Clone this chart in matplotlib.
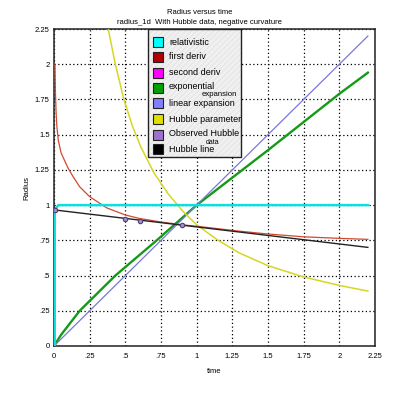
import matplotlib
matplotlib.use("Agg")
import matplotlib.pyplot as plt
from matplotlib.patches import Rectangle

plt.rcParams['font.family'] = ['Liberation Sans', 'DejaVu Sans']
plt.rcParams['hatch.linewidth'] = 0.5

# ---- data ----
tick_vals = [0, 0.25, 0.5, 0.75, 1, 1.25, 1.5, 1.75, 2, 2.25]
tick_labels = ["0", ".25", ".5", ".75", "1", "1.25", "1.5", "1.75", "2", "2.25"]

t_rel = [0.005, 0.005, 0.03, 2.2]
r_rel = [0.0, 0.965, 1.0, 1.0]

t_first = [0.007, 0.01, 0.015, 0.02, 0.03, 0.05, 0.077, 0.1, 0.135, 0.18, 0.25,
           0.37, 0.5, 0.6, 0.75, 0.9, 1.0, 1.3, 1.5, 1.75, 2.0, 2.2]
r_first = [2.0, 1.8, 1.65, 1.56, 1.46, 1.37, 1.31, 1.26, 1.2, 1.13, 1.06,
           0.98, 0.93, 0.905, 0.88, 0.86, 0.85, 0.815, 0.795, 0.775, 0.764, 0.757]

t_exp = [0, 0.05, 0.18, 0.43, 0.72, 1.0, 1.5, 1.75, 2.0, 2.2]
r_exp = [0, 0.08, 0.25, 0.5, 0.75, 1.0, 1.39, 1.59, 1.79, 1.94]

t_lin = [0, 2.2]
r_lin = [0, 2.2]

t_hub = [0.38, 0.43, 0.49, 0.55, 0.61, 0.7, 0.8, 0.9, 1.0, 1.15, 1.3, 1.5, 1.75, 2.0, 2.2]
r_hub = [2.25, 2.0, 1.75, 1.56, 1.41, 1.23, 1.08, 0.96, 0.86, 0.75, 0.66, 0.57, 0.49, 0.43, 0.39]

t_obs = [0.01, 0.5, 0.6, 0.9]
r_obs = [0.965, 0.9, 0.886, 0.86]

t_hline = [0.01, 2.2]
r_hline = [0.965, 0.70]

legend_labels = ["relativistic", "first deriv", "second deriv", "exponential",
                 "linear expansion", "Hubble parameter", "Observed Hubble", "Hubble line"]
legend_sub = [None, None, None, "expansion", None, None, "data", None]
legend_colors = ["#00ffff", "#b00000", "#ff00ff", "#00a000", "#8080ff",
                 "#e0e000", "#a070d0", "#000000"]

# ---- figure ----
fig = plt.figure(figsize=(4.0, 3.96), dpi=100)
ax = fig.add_axes([54/400, 50/396, 321/400, 317/396])

ax.plot(t_exp, r_exp, color="#149a14", lw=1.7, zorder=3)
ax.plot(t_lin, r_lin, color="#7878d8", lw=0.9, zorder=3)
ax.plot(t_hub, r_hub, color="#d6d624", lw=1.1, zorder=3)
ax.plot(t_first, r_first, color="#d04a30", lw=0.9, zorder=4)
ax.plot(t_hline, r_hline, color="#222222", lw=1.0, zorder=4)
ax.plot(t_rel, r_rel, color="#10dede", lw=1.8, zorder=5)
ax.plot(t_obs, r_obs, linestyle="none", marker="o", ms=3.2, mfc="#a090c8",
        mec="#504070", mew=0.8, zorder=6)

ax.set_xlim(0, 2.25)
ax.set_ylim(0, 2.25)
ax.set_xticks(tick_vals)
ax.set_xticklabels(tick_labels)
ax.set_yticks(tick_vals)
ax.set_yticklabels(tick_labels)
ax.tick_params(length=0, labelsize=5.5)
ax.tick_params(axis="x", pad=5)
ax.tick_params(axis="y", pad=3)
ax.grid(True, color="black", linestyle=(0, (1, 2)), linewidth=0.9)
for s in ax.spines.values():
    s.set_linewidth(1.1)
    s.set_color("#222222")

ax.set_xlabel("time", fontsize=5.5, labelpad=6)
ax.set_ylabel("Radius", fontsize=5.5, labelpad=3)

fig.text(0.5, 1 - 12/396, "Radius versus time", ha="center", va="center", fontsize=5.5)
fig.text(0.4975, 1 - 22/396, "radius_1d  With Hubble data, negative curvature",
         ha="center", va="center", fontsize=5.5)

# ---- manual legend ----
def fx(px):
    return (px - 54) / 321

def fy(py):
    return (346 - py) / 317

lx0, lx1, ly0, ly1 = fx(148), fx(241), fy(157), fy(29)
ax.add_patch(Rectangle((lx0, ly0), lx1 - lx0, ly1 - ly0, transform=ax.transAxes,
                       facecolor="#f0f0f0", edgecolor="#e0e0e0", hatch="//////",
                       linewidth=0, zorder=10))
ax.add_patch(Rectangle((lx0, ly0), lx1 - lx0, ly1 - ly0, transform=ax.transAxes,
                       facecolor="none", edgecolor="#222222", linewidth=1.0, zorder=11))

fs_leg = 6.5
ys = [42.3, 56.7, 72.7, 88.3, 103.3, 119, 135, 149.3]
for lab, sub, col, py in zip(legend_labels, legend_sub, legend_colors, ys):
    ax.add_patch(Rectangle((fx(153), fy(py + 5)), 10/321, 10/317, transform=ax.transAxes,
                           facecolor=col, edgecolor="#222222", linewidth=0.8, zorder=12))
    if sub is None:
        ax.text(fx(169), fy(py), lab, transform=ax.transAxes, fontsize=fs_leg,
                va="center", ha="left", zorder=12)
    else:
        ax.text(fx(169), fy(py - 1.5), lab, transform=ax.transAxes, fontsize=fs_leg,
                va="center", ha="left", zorder=12)
        if sub == "expansion":
            ax.text(fx(202), fy(py + 6), sub, transform=ax.transAxes, fontsize=5.6,
                    va="center", ha="left", zorder=12)
        else:
            ax.text(fx(213), fy(py + 7), sub, transform=ax.transAxes, fontsize=5.0,
                    va="center", ha="center", zorder=12)

fig.savefig("out.png", dpi=100, facecolor="white")
